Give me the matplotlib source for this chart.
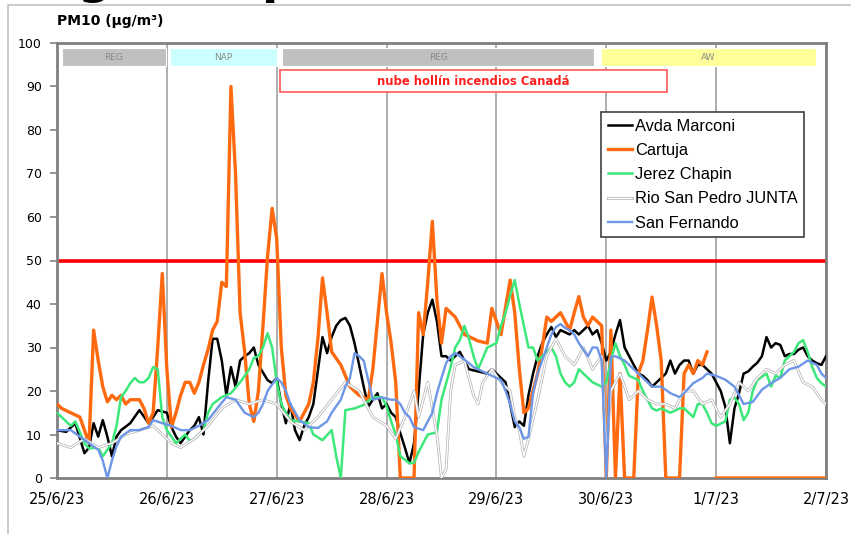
import numpy as np
import matplotlib
matplotlib.use("Agg")
import matplotlib.pyplot as plt
import matplotlib.patheffects as pe
from matplotlib.patches import Rectangle
from matplotlib.lines import Line2D

# hours since 25/6/23 00:00 and PM10 values (ug/m3) per station
marconi_h = [0, 2, 4, 6, 7, 8, 9, 10, 11, 12, 13, 14, 16, 18, 20, 21, 22, 24, 25, 26, 27, 29, 30, 31,
             32, 33, 34, 35, 36, 37, 38, 39, 40, 41, 42, 43, 44, 46, 47, 48, 49, 50, 51, 52, 53, 54,
             55, 56, 58, 59, 60, 61, 62, 63, 64, 65, 66, 67, 68, 69, 70, 71, 72, 73, 74, 75, 76, 77,
             78, 79, 80, 81, 82, 83, 84, 85, 86, 87, 88, 89, 90, 92, 94, 95, 96, 97, 98, 99, 100,
             101, 102, 103, 104, 105, 106, 107, 108, 109, 110, 111, 112, 113, 114, 115, 116, 117,
             118, 119, 120, 121, 122, 123, 124, 125, 126, 127, 128, 129, 130, 131, 132, 133, 134,
             135, 136, 137, 138, 139, 140, 141, 142, 143, 144, 145, 146, 147, 148, 149, 150, 151,
             152, 153, 154, 155, 156, 157, 158, 159, 160, 161, 162, 163, 164, 165, 166, 167, 168]
marconi_v = [11, 10.6, 12.6, 5.7, 7, 12.6, 9.5, 13.3, 9.5, 5, 9.5, 11, 12.6, 15.6, 12.6, 14, 15.6, 15,
             11.7, 9.5, 8, 11, 12, 14, 10, 22, 32, 32, 27, 19, 25.5, 21, 27, 28, 28.7, 30, 26, 22.5,
             21.8, 23, 17, 12.6, 17, 11, 8.7, 12, 14, 17, 32.4, 28.7, 32.4, 35, 36.3, 36.8, 35, 31,
             26, 21, 16.4, 18, 19.5, 16, 17, 15, 14, 10.3, 7, 3.4, 8, 20, 33, 38, 41, 36, 28, 28,
             27, 28, 29, 27, 25, 24.5, 24, 25, 24, 23, 22, 17, 11.7, 13, 12, 19, 24, 28, 31, 33,
             34.7, 32.4, 34, 33.5, 33, 34, 33, 34, 35, 33, 34, 31, 27, 29, 33, 36.3, 30, 28, 26, 24,
             23.5, 22.5, 21, 22, 23, 24, 27, 24, 26, 27, 27, 24, 26, 26, 25, 24, 22, 20, 16.4, 8,
             16, 19.5, 24, 24.5, 25.6, 26.5, 28, 32.4, 30, 31, 30.6, 28, 28.5, 28.5, 29.5, 30, 28,
             27, 26.4, 26, 28]

cartuja_h = [0, 1, 3, 5, 6, 7, 8, 9, 10, 11, 12, 13, 14, 15, 16, 18, 19, 20, 21, 22, 23, 24, 25, 26,
             27, 28, 29, 30, 31, 32, 33, 34, 35, 36, 37, 38, 39, 40, 41, 42, 43, 44, 45, 46, 47, 48,
             49, 50, 51, 53, 55, 56, 57, 58, 59, 60, 62, 64, 66, 68, 69, 70, 71, 72, 73, 74, 75, 78,
             79, 80, 81, 82, 83, 84, 85, 87, 89, 92, 94, 95, 97, 99, 100, 101, 102, 103, 105, 106,
             107, 108, 110, 112, 113, 114, 115, 116, 117, 118, 119, 120, 121, 122, 123, 124, 126,
             127, 128, 129, 130, 131, 132, 133, 135, 136, 137, 138, 139, 140, 141, 142, 143, 144,
             168]
cartuja_v = [17, 16, 15, 14, 11, 8, 34, 27, 21, 17.5, 19, 18, 19, 17, 18, 18, 16, 12.6, 15, 30, 47,
             25, 11.7, 15, 19, 22, 22, 19.5, 22, 26, 29.5, 34, 36, 45, 44, 90, 70, 38, 29, 17, 13,
             20, 35, 51, 62, 55, 30, 19, 16, 13, 17, 22, 32, 46, 38, 29, 26, 21, 19, 18, 25, 36, 47,
             38, 31, 22, 0, 0, 38, 33, 45, 59, 41, 31, 39, 37, 33, 31.5, 31, 39, 33, 45.5, 38, 25,
             15, 16, 24, 30, 37, 36, 38, 34, 38, 41.7, 37, 35, 37, 36, 35, 0, 34, 0, 24, 0, 0, 24,
             27, 34, 41.6, 35, 27, 0, 0, 0, 24, 26, 24, 27, 26, 29, np.nan, 0, 0]

jerez_h = [0, 1, 3, 4, 6, 7, 9, 10, 12, 13, 14, 15, 16, 17, 18, 19, 20, 21, 22, 23, 24, 25, 26, 27,
           28, 29, 30, 32, 33, 34, 36, 38, 40, 42, 43, 44, 45, 46, 47, 48, 49, 50, 51, 53, 55, 56,
           58, 60, 61, 62, 63, 65, 67, 69, 71, 72, 73, 74, 75, 77, 78, 79, 80, 81, 83, 84, 86, 87,
           88, 89, 90, 91, 92, 94, 96, 97, 98, 99, 100, 101, 102, 103, 104, 105, 107, 108, 109, 110,
           111, 112, 113, 114, 115, 117, 119, 120, 121, 122, 123, 124, 125, 127, 128, 129, 130, 131,
           132, 134, 136, 137, 138, 139, 140, 141, 142, 143, 144, 145, 146, 147, 148, 149, 150,
           151, 152, 153, 155, 156, 157, 158, 159, 160, 161, 162, 163, 164, 165, 166, 167, 168]
jerez_v = [15, 14, 12, 13, 8, 6.8, 7, 5, 8, 12, 18.6, 20, 21.8, 23, 22, 22, 23, 25.5, 25, 14, 11,
           9.5, 8, 9, 10, 8.5, 9, 11, 15, 17, 18.6, 19.5, 22, 25, 27.6, 28, 30, 33.3, 30, 22, 17,
           15, 13.3, 13, 12.6, 10, 8.7, 11, 5, 0, 15.6, 16, 16.8, 18.6, 18.6, 16.5, 13, 10, 5, 3.4,
           3.5, 6, 8, 10, 10.5, 18, 25.5, 30, 31.7, 35, 32, 28, 25, 30, 31, 35, 38, 42, 45.5, 40,
           35, 30, 30, 27, 29, 30, 28, 24, 22, 21, 22, 25, 24, 22, 21, 22, 27, 31, 28, 26, 23.5,
           22.5, 20, 18, 16, 15.5, 16, 15, 16, 16, 15, 14, 17, 17, 15, 12.6, 12, 12.5, 13, 18,
           18.5, 17, 13.3, 15, 20, 22.5, 24, 21, 23.5, 23, 27, 28, 29, 31, 31.7, 29, 25.5, 23,
           21.8, 21]

junta_h = [0, 3, 6, 9, 12, 15, 18, 21, 23, 25, 27, 30, 33, 36, 39, 42, 45, 48, 51, 54, 57, 60, 63,
           66, 69, 72, 74, 76, 78, 79, 81, 83, 84, 85, 86, 87, 89, 91, 92, 93, 95, 97, 99, 100,
           101, 102, 103, 105, 107, 109, 111, 113, 115, 117, 119, 120, 121, 123, 125, 127, 129,
           131, 133, 135, 137, 139, 141, 143, 145, 147, 149, 151, 153, 155, 157, 159, 161, 163,
           165, 167, 168]
junta_v = [8, 7, 9, 7, 8, 10, 11, 12, 10, 8, 7, 9, 12, 16, 18, 17, 18, 17, 13, 11, 14, 18, 22, 20,
           14, 12, 9, 14, 20, 14, 22, 10, 0, 2, 20, 26, 27, 19, 17, 22, 25, 22, 20, 14, 11, 5, 9,
           18, 28, 32, 28, 26, 30, 25, 28, 6, 20, 24, 18, 20, 18, 17, 17, 16, 20, 20, 17, 18, 14,
           17, 22, 20, 23, 25, 24, 26, 27, 22, 21, 18, 17]

fernando_h = [0, 3, 5, 7, 9, 10, 11, 12, 13, 14, 16, 18, 20, 21, 23, 25, 27, 29, 31, 33, 35, 37, 39,
              41, 43, 44, 45, 46, 48, 49, 50, 51, 53, 55, 57, 59, 60, 62, 63, 64, 65, 66, 67, 68,
              69, 71, 73, 74, 75, 76, 77, 78, 80, 81, 82, 83, 84, 85, 86, 87, 88, 90, 91, 93, 95,
              97, 98, 99, 100, 101, 102, 103, 104, 105, 106, 107, 108, 109, 110, 111, 112, 113,
              114, 115, 116, 117, 118, 119, 120, 121, 122, 124, 126, 128, 130, 132, 134, 136, 137,
              139, 141, 142, 144, 146, 148, 149, 150, 152, 154, 156, 158, 160, 162, 164, 166, 167,
              168]
fernando_v = [11, 11, 9.5, 8, 6.5, 4, 0, 4, 7.3, 9.5, 11, 11, 11.7, 13.3, 12.6, 12, 11, 11, 12,
              13.3, 16, 18.6, 18, 15, 14, 15, 17, 20, 23, 22, 20, 17, 13.3, 11.7, 11.5, 13, 15, 18,
              21, 23, 28.7, 28, 27, 22.5, 18, 18.5, 18, 18, 17, 15, 14, 11.7, 11, 13, 15, 19.5, 23,
              26.4, 28, 28.7, 28, 26.4, 25.5, 24.5, 23.5, 22.5, 20, 17, 13, 11.7, 9, 9.5, 19.5, 24,
              27, 30, 33, 34.7, 35.4, 34.5, 34, 33, 31, 29.5, 28, 30, 30, 27, 0, 27.8, 28, 27, 25,
              23, 21, 21, 19.5, 18.6, 19.5, 21.8, 23, 24, 23.5, 22.6, 21, 19, 17, 17.5, 20.3, 21.8,
              23, 25, 25.6, 27, 26, 24, 23]

day_labels = ["25/6/23", "26/6/23", "27/6/23", "28/6/23", "29/6/23", "30/6/23", "1/7/23", "2/7/23"]

# air mass episodes along the top: (label, start hour, end hour, colour)
episodes = [("REG", 1.1, 23.8, "#c0c0c0"),
            ("NAP", 24.7, 48.0, "#ccffff"),
            ("REG", 49.1, 117.4, "#c0c0c0"),
            ("AW", 118.8, 165.8, "#ffff99")]
smoke_note = "nube hollín incendios Canadá"
smoke_start, smoke_end = 48.7, 133.3
limit_value = 50

fig = plt.figure(figsize=(8.51, 5.34), dpi=100)
ax = fig.add_axes([57 / 851, 1 - 478 / 534, 769 / 851, 435 / 534])

ax.axhline(limit_value, color="#ff0000", lw=2.6, zorder=2)

ax.plot(marconi_h, marconi_v, color="#000000", lw=1.8, label="Avda Marconi", zorder=3)
ax.plot(cartuja_h, cartuja_v, color="#ff6a10", lw=2.4, label="Cartuja", zorder=4)
ax.plot(jerez_h, jerez_v, color="#3de87a", lw=1.8, label="Jerez Chapin", zorder=5)
ax.plot(junta_h, junta_v, color="#ffffff", lw=1.0, label="Rio San Pedro JUNTA", zorder=6,
        path_effects=[pe.Stroke(linewidth=2.0, foreground="#b0b0b0"), pe.Normal()])
ax.plot(fernando_h, fernando_v, color="#6e96e6", lw=1.7, label="San Fernando", zorder=7)

for name, h0, h1, col in episodes:
    ax.add_patch(Rectangle((h0, 94.6), h1 - h0, 4.2, facecolor=col,
                           edgecolor="white", lw=0.8, zorder=8))
    ax.text((h0 + h1) / 2, 96.7, name, ha="center", va="center",
            fontsize=6.5, color="#8a8a8a", zorder=9)

ax.add_patch(Rectangle((smoke_start, 88.8), smoke_end - smoke_start, 4.9, facecolor="white",
                       edgecolor="#ff5a5a", lw=1.2, zorder=8))
ax.text((smoke_start + smoke_end) / 2, 91.2, smoke_note, ha="center", va="center",
        fontsize=8.4, fontweight="bold", color="#ff2020", zorder=9)

ax.set_xlim(0, 168)
ax.set_ylim(0, 100)
ax.set_xticks(np.arange(0, 169, 24))
ax.set_xticklabels(day_labels, fontsize=10.5)
ax.set_yticks(np.arange(0, 101, 10))
ax.tick_params(axis="y", labelsize=9, length=5, width=1.2, color="#808080", pad=6)
ax.tick_params(axis="x", length=0, pad=10)
ax.grid(axis="x", color="#a8a8a8", lw=1.3, zorder=1)
ax.set_axisbelow(True)
for s in ax.spines.values():
    s.set_color("#808080")
    s.set_linewidth(2)

leg = ax.legend(loc="upper left", bbox_to_anchor=(0.7074, 0.8414), borderaxespad=0,
                fancybox=False, frameon=True, edgecolor="#404040", framealpha=1,
                prop={"family": "Liberation Sans", "size": 11.8}, handlelength=1.45,
                handletextpad=0.2, labelspacing=0.56, borderpad=0.42)
leg.get_frame().set_linewidth(1.2)
leg.set_zorder(10)

fig.text(57 / 851, 1 - 21 / 534, "PM10 (µg/m³)", fontsize=10, fontweight="bold",
         va="center", ha="left")

# bottoms of the large heading letters above the chart
fig.text(78 / 851, 1 + 7 / 534, "g", fontsize=34, fontweight="bold", va="baseline", ha="left")
fig.text(262 / 851, 1 + 7 / 534, "p", fontsize=34, fontweight="bold", va="baseline", ha="left")

# chart frame
fig.add_artist(Line2D([8 / 851, 8 / 851, 1], [0, 1 - 5 / 534, 1 - 5 / 534],
                      transform=fig.transFigure, color="#c4c4c4", lw=1.2))

fig.savefig("out.png", dpi=100)
